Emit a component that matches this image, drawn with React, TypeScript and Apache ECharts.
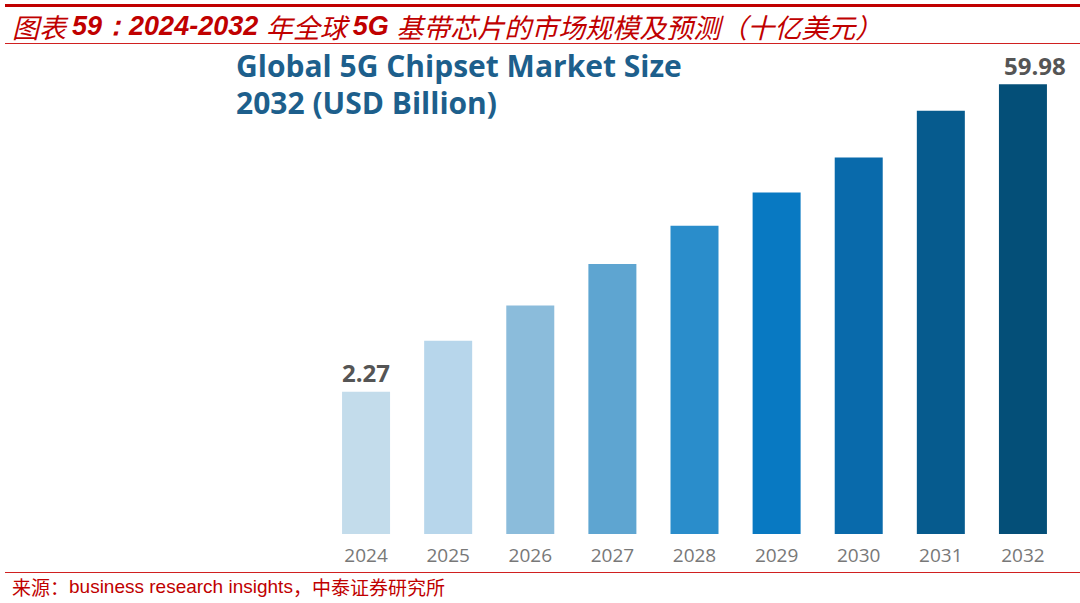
import React, { useEffect, useRef } from "react";
import * as echarts from "echarts";

const categories = ["2024", "2025", "2026", "2027", "2028", "2029", "2030", "2031", "2032"];
// Market size (USD billion); the picture's value axis is not zero-based
const values = [2.27, 11.83, 18.47, 26.22, 33.4, 39.67, 46.23, 54.97, 59.98];
// hidden axis floor of the original graphic (bars rise from this level)
const axisFloor = 24.42;
const shownLabels = [true, false, false, false, false, false, false, false, true];
const labelShiftX = [0, 0, 0, 0, 0, 0, 0, 0, 12];
const barColors = ["#c3dceb", "#b7d6eb", "#8bbcdb", "#5ea5d1", "#2a8dcb", "#0879c2", "#096aab", "#065b8e", "#044f78"];

const headerParts = [
  ["k", "图表 "],
  ["b", "59："],
  ["b", "2024-2032 "],
  ["k", "年全球 "],
  ["b", "5G "],
  ["k", "基带芯片的市场规模及预测（十亿美元）"],
];
const innerTitle = "Global 5G Chipset Market Size\n2032 (USD Billion)";
const sourceParts = [
  ["k", "来源："],
  ["a", "business research insights"],
  ["k", "，中泰证券研究所"],
];

export default function App() {
  const ref = useRef<HTMLDivElement>(null);
  useEffect(() => {
    document.body.style.margin = "0";
    const chart = echarts.init(ref.current!, null, { renderer: "svg" });
    const seg = (parts: string[][]) => parts.map(([s, t]) => `{${s}|${t}}`).join("");
    chart.setOption({
      animation: false,
      backgroundColor: "#ffffff",
      grid: { left: 325, right: 16, top: 1, bottom: 69, containLabel: false },
      xAxis: {
        type: "category",
        data: categories,
        axisLine: { show: false },
        axisTick: { show: false },
        axisLabel: {
          color: "#787878",
          fontSize: 19,
          fontFamily: "Open Sans",
          margin: 11,
        },
      },
      yAxis: {
        type: "value",
        min: 0,
        max: 100,
        show: false,
        splitLine: { show: false },
      },
      series: [
        {
          type: "bar",
          // bar top = hidden floor + value (the graphic's axis starts below zero)
          data: values.map((v, i) => ({
            value: v + axisFloor,
            itemStyle: { color: barColors[i] },
            label: {
              show: shownLabels[i],
              offset: [labelShiftX[i], 0],
            },
          })),
          barWidth: 48,
          label: {
            show: true,
            position: "top",
            distance: 7,
            color: "#555555",
            fontSize: 24,
            fontWeight: "bold",
            fontFamily: "Open Sans",
            formatter: (p: any) => String(values[p.dataIndex]),
          },
        },
      ],
      graphic: [
        { type: "rect", shape: { x: 5, y: 4, width: 1075, height: 3 }, style: { fill: "#c00000" } },
        { type: "rect", shape: { x: 5, y: 43, width: 1075, height: 1 }, style: { fill: "#d02020" } },
        { type: "rect", shape: { x: 5, y: 572, width: 1075, height: 1 }, style: { fill: "#d02020" } },
        {
          type: "text",
          x: 12,
          y: 26,
          style: {
            text: seg(headerParts),
            verticalAlign: "middle",
            rich: {
              k: {
                fill: "#c00000",
                fontSize: 27,
                fontStyle: "italic",
                fontFamily: "Noto Sans CJK SC",
                fontWeight: "normal",
              },
              b: {
                fill: "#c00000",
                fontSize: 27,
                fontStyle: "italic",
                fontWeight: "bold",
                fontFamily: "Liberation Sans",
              },
            },
          },
        },
        {
          type: "text",
          x: 236,
          y: 47,
          style: {
            text: innerTitle,
            fill: "#1d5f8c",
            fontSize: 30,
            fontWeight: "bold",
            fontFamily: "Open Sans",
            lineHeight: 37,
            verticalAlign: "top",
          },
        },
        {
          type: "text",
          x: 12,
          y: 586,
          style: {
            text: seg(sourceParts),
            verticalAlign: "middle",
            rich: {
              k: { fill: "#c00000", fontSize: 19, fontFamily: "Noto Sans CJK SC" },
              a: { fill: "#c00000", fontSize: 19, fontFamily: "Liberation Sans" },
            },
          },
        },
      ],
    });
    return () => chart.dispose();
  }, []);
  return <div ref={ref} style={{ width: 1080, height: 603 }} />;
}
